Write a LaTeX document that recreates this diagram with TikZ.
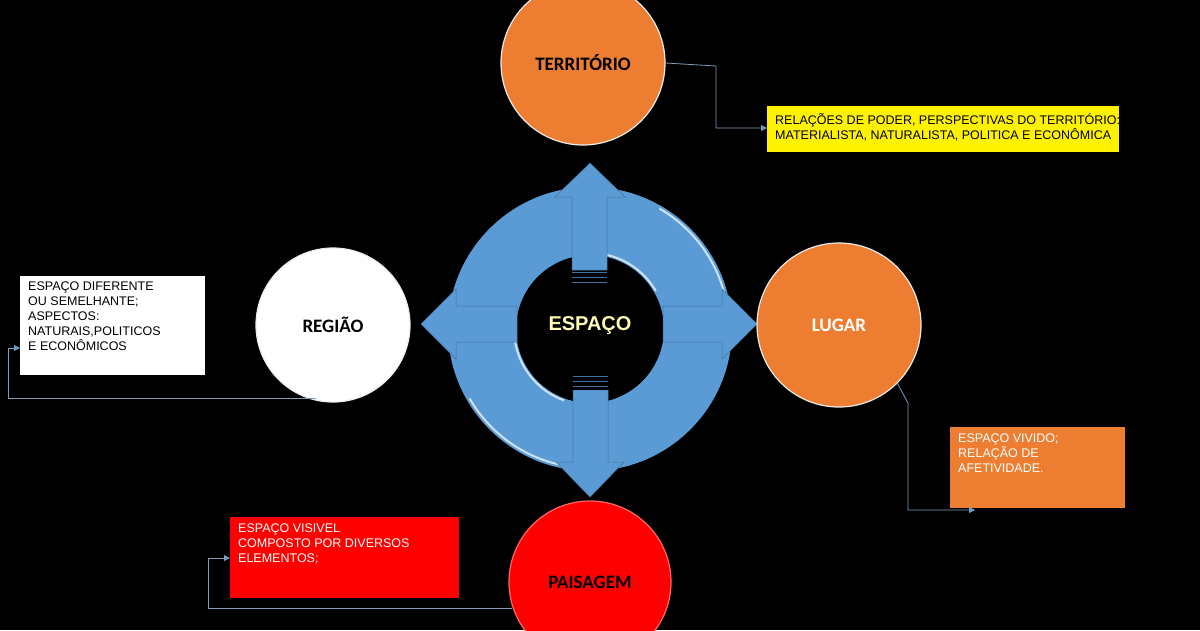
\documentclass[tikz,border=0pt]{standalone}
\usepackage{fontspec}
\setmainfont{Liberation Sans}
\newfontfamily\calib{Carlito}
\usetikzlibrary{arrows.meta}
\definecolor{ringblue}{HTML}{5B9BD5}
\definecolor{ringedge}{HTML}{41719C}
\definecolor{orng}{HTML}{ED7D31}
\definecolor{linec}{HTML}{7F9DB9}
\tikzset{
 bubble/.style={circle,draw=white!85!gray,line width=1.2pt,font=\calib\bfseries\fontsize{19}{22}\selectfont},
 txtbox/.style={anchor=north west,align=left,inner sep=0pt,font=\fontsize{12.5}{15}\selectfont},
 conn/.style={draw=linec,line width=0.8pt},
 connarr/.style={conn,-{Triangle[length=6pt,width=6pt,fill=ringblue]}},
 arr/.style={fill=ringblue,draw=ringedge,line width=0.5pt}
}
\begin{document}
\begin{tikzpicture}[x=1pt,y=-1pt]
\fill[black] (0,0) rectangle (1200,630);
\useasboundingbox (0,0) rectangle (1200,630);
\clip (0,0) rectangle (1200,630);
% ring
\fill[ringblue,even odd rule] (590,329) circle (142) (590,329) circle (74);
\draw[white!70!ringblue,line width=2pt] (590,329) ++(150:139) arc (150:95:139);
\draw[white!70!ringblue,line width=2pt] (590,329) ++(-60:139) arc (-60:-10:139);
\draw[white!70!ringblue,line width=2pt] (590,329) ++(-30:76) arc (-30:-80:76);
\draw[white!70!ringblue,line width=2pt] (590,329) ++(110:76) arc (110:170:76);
% arrows
\draw[arr] (572,270) -- (572,197) -- (555,197) -- (590,163) -- (625,197) -- (607,197) -- (607,270) -- cycle;
\draw[arr] (573,390) -- (573,462) -- (556,462) -- (590,497) -- (624,462) -- (608,462) -- (608,390) -- cycle;
\draw[arr] (517,306) -- (456,306) -- (456,289) -- (421,324) -- (456,359) -- (456,342) -- (517,342) -- cycle;
\draw[arr] (663,306) -- (722,306) -- (722,289) -- (757,324) -- (722,359) -- (722,342) -- (663,342) -- cycle;
\foreach \y in {272,277,282} \draw[ringedge,line width=0.8pt] (572,\y) -- (607,\y);
\foreach \y in {376,381,386} \draw[ringedge,line width=0.8pt] (573,\y) -- (608,\y);
\node[font=\bfseries\fontsize{20}{24}\selectfont,text=yellow!30!white] (esp) at (590,326) {ESPAÇO};
% circles
\node[bubble,fill=orng,minimum size=164pt] (terr) at (583,63) {TERRITÓRIO};
\node[bubble,fill=white,minimum size=154pt] (reg) at (333,325) {REGIÃO};
\node[bubble,fill=orng,minimum size=164pt,text=white] (lug) at (839,325) {LUGAR};
\node[bubble,fill=red,minimum size=162pt,draw=red!60!white] (pais) at (590,582) {PAISAGEM};
% boxes
\fill[yellow] (767,106) rectangle (1119,152);
\node[txtbox] (ty) at (775,113) {RELAÇÕES DE PODER, PERSPECTIVAS DO TERRITÓRIO:\\MATERIALISTA, NATURALISTA, POLITICA E ECONÔMICA};
\fill[white] (20,276) rectangle (205,375);
\node[txtbox] (tw) at (28,282) {ESPAÇO DIFERENTE\\OU SEMELHANTE;\\ASPECTOS:\\NATURAIS,POLITICOS\\E ECONÔMICOS};
\fill[orng] (950,427) rectangle (1125,508);
\node[txtbox,text=white] (to) at (958,434) {ESPAÇO VIVIDO;\\RELAÇÃO DE\\AFETIVIDADE.};
\fill[red] (230,517) rectangle (459,598);
\node[txtbox,text=white] (tr) at (238,524) {ESPAÇO VISIVEL\\COMPOSTO POR DIVERSOS\\ELEMENTOS;};
% connectors
\coordinate (c1) at (767,128); \coordinate (c2) at (20,348);
\coordinate (c3) at (975,510); \coordinate (c4) at (230,558);
\draw[connarr] (terr.east) -- (716,66) |- (c1);
\draw[connarr] (316,398) -- (8,398) |- (c2);
\draw[connarr] (lug.south east) ++(0,0) -- (908,403) |- (c3);
\draw[connarr] (512,608) -- (208,608) |- (c4);
\end{tikzpicture}
\end{document}
